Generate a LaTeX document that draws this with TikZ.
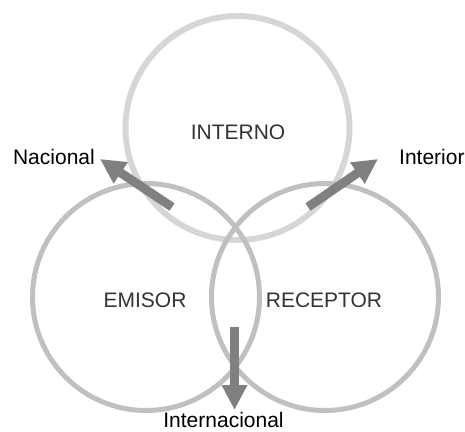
\documentclass[tikz,border=0pt]{standalone}
\usepackage{fontspec}
\setmainfont{Liberation Sans}
\usetikzlibrary{arrows.meta}
\definecolor{ringlight}{HTML}{D8D8D8}
\definecolor{ringtex}{HTML}{C4C4C4}
\definecolor{ring}{HTML}{C0C0C0}
\definecolor{arrowgray}{HTML}{808080}
\definecolor{inner}{HTML}{333333}
\begin{document}
\begin{tikzpicture}[x=1pt,y=1pt,
  font=\fontsize{21}{25}\selectfont,
  ringbox/.style={circle,draw=ring,line width=5pt,minimum size=227pt,inner sep=0pt},
  topbox/.style={circle,draw=ringlight,line width=6pt,minimum size=224pt,inner sep=0pt},
  setname/.style={text=inner,inner sep=0pt,anchor=base},
  outlabel/.style={text=black,inner sep=0pt},
  flow/.style={draw=arrowgray,line width=9pt,-{Triangle[width=24pt,length=25pt]},arrowgray}]
\useasboundingbox (0,0) rectangle (465,431);

% three overlapping sets
\node[topbox] (interno) at (237.5,303) {};
\draw[ringtex,line width=0.6pt,dotted] (interno.center) circle[radius=111pt];
\draw[ringtex,line width=0.4pt,densely dotted] (interno.center) circle[radius=113.5pt];
\node[ringbox] (emisor) at (146,134) {};
\node[ringbox] (receptor) at (325,134) {};

% set names
\node[setname] (tInterno) at (238,291) {INTERNO};
\node[setname] (tEmisor) at (145,124) {EMISOR};
\node[setname] (tReceptor) at (324,124) {RECEPTOR};

% outer labels
\node[outlabel,anchor=base east] (nacional) at (95,266) {Nacional};
\node[outlabel,anchor=base west] (interior) at (399,266) {Interior};
\node[outlabel,anchor=base] (internacional) at (223.5,3.5) {Internacional};

% arrow ends
\coordinate (nacTail) at (172,224);
\coordinate (nacTip) at (100,272);
\coordinate (intTail) at (308,224);
\coordinate (intTip) at (378,272);
\coordinate (ixTail) at (234.5,104);
\coordinate (ixTip) at (234.5,21);

\draw[flow] (nacTail) -- (nacTip);
\draw[flow] (intTail) -- (intTip);
\draw[flow] (ixTail) -- (ixTip);
\end{tikzpicture}
\end{document}
